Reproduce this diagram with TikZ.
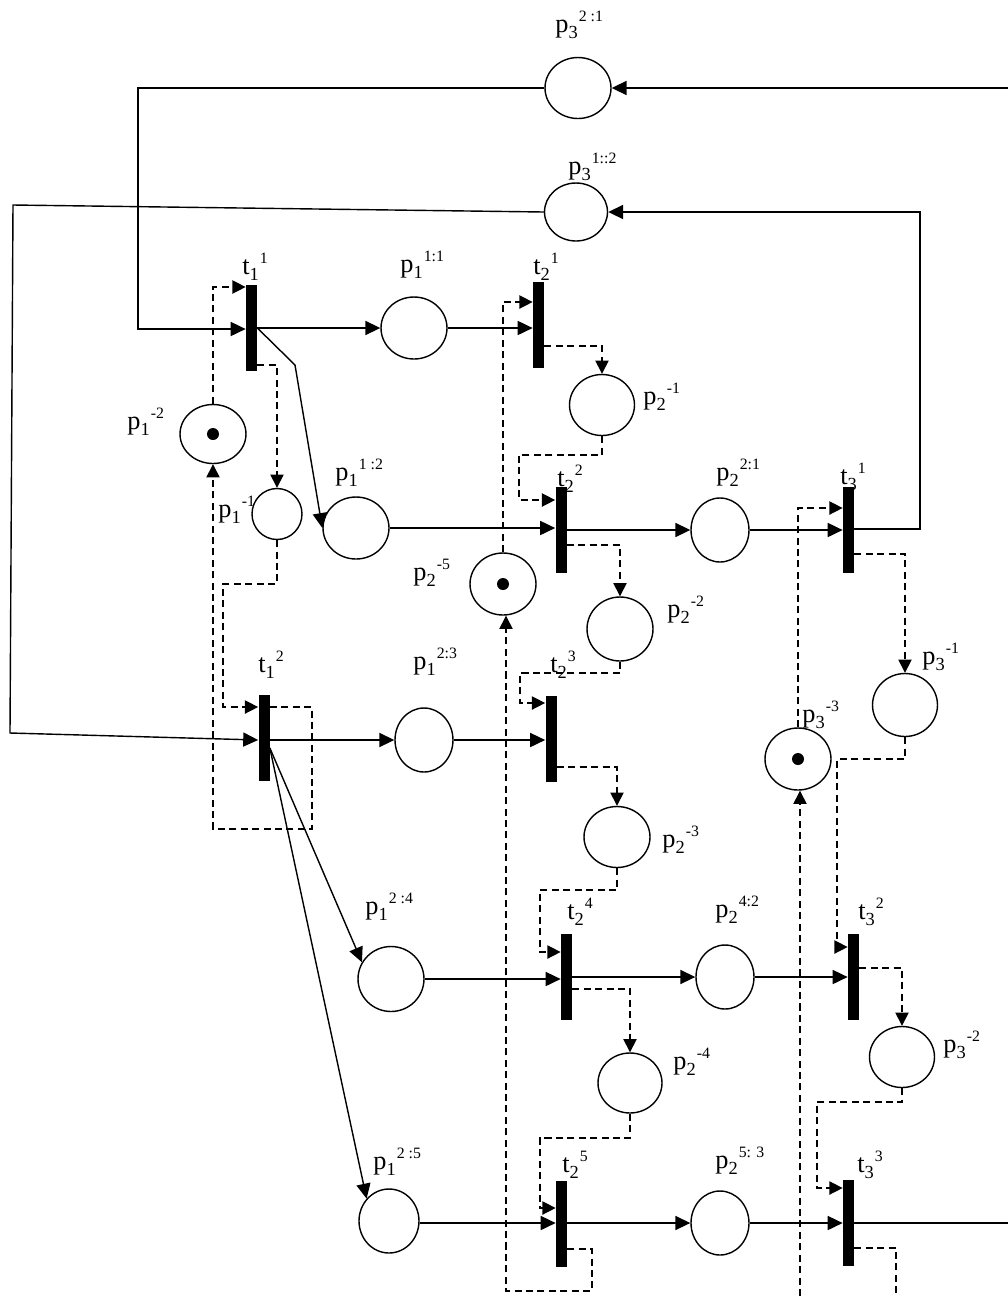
\documentclass[tikz,border=0pt]{standalone}
\usepackage{fontspec}
\setmainfont{Liberation Serif}
\usetikzlibrary{arrows.meta,shapes.geometric}
\newcommand\lb[3]{{\fontsize{15}{15}\selectfont #1}\raisebox{-3.6pt}{\fontsize{10.5}{10.5}\selectfont #2}\kern0.6pt\raisebox{5.8pt}{\fontsize{9}{9}\selectfont #3}}
\tikzset{
 tr/.style={rectangle, fill=black, draw=none, inner sep=0pt, minimum width=0.22cm, minimum height=1.72cm},
 place/.style 2 args={ellipse, draw, line width=0.8pt, inner sep=0pt, minimum width=#1cm, minimum height=#2cm},
 tok/.style={circle, fill=black, inner sep=0pt, minimum size=0.24cm},
 lab/.style={anchor=base west, inner sep=0pt},
 ln/.style={line width=0.8pt},
 arr/.style={ln, -{Triangle[length=8.5pt,width=8pt]}},
 dsh/.style={line width=0.8pt, dash pattern=on 4pt off 2.5pt},
 darr/.style={dsh, -{Triangle[length=7.5pt,width=7.5pt]}},
}
\begin{document}
\begin{tikzpicture}[x=0.02cm,y=-0.02cm]
\useasboundingbox (0,0) rectangle (1008,1296);
% transitions
\node[tr] (t11) at (251.5,328) {};
\node[tr] (t21) at (538.5,325) {};
\node[tr] (t22) at (561,530) {};
\node[tr] (t31) at (848.5,530) {};
\node[tr] (t12) at (264,738) {};
\node[tr] (t23) at (551,738.5) {};
\node[tr] (t24) at (566.5,976.5) {};
\node[tr] (t32) at (853.5,976.5) {};
\node[tr] (t25) at (561.5,1223.5) {};
\node[tr] (t33) at (848.5,1223) {};
% places
\node[place={1.32}{1.22}] (p321) at (578,88) {};
\node[place={1.26}{1.16}] (p312) at (576,212) {};
\node[place={1.32}{1.24}] (p111) at (414,328) {};
\node[place={1.30}{1.22}] (p2m1) at (602,405) {};
\node[place={1.32}{1.18}] (p1m2) at (213,434) {};
\node[place={1.00}{1.02}] (p1m1) at (277,514) {};
\node[place={1.32}{1.24}] (p112) at (356,528) {};
\node[place={1.16}{1.28}] (p221) at (720,530) {};
\node[place={1.32}{1.24}] (p2m5) at (503,584) {};
\node[place={1.32}{1.28}] (p2m2) at (620,629) {};
\node[place={1.16}{1.28}] (p123) at (424,740) {};
\node[place={1.30}{1.26}] (p3m1) at (905,705) {};
\node[place={1.32}{1.24}] (p3m3) at (798,759) {};
\node[place={1.32}{1.22}] (p2m3) at (617,837) {};
\node[place={1.32}{1.30}] (p124) at (391,979) {};
\node[place={1.16}{1.28}] (p242) at (725,977) {};
\node[place={1.28}{1.20}] (p2m4) at (630,1083) {};
\node[place={1.30}{1.22}] (p3m2) at (902,1057) {};
\node[place={1.20}{1.28}] (p125) at (389,1221) {};
\node[place={1.16}{1.28}] (p253) at (720,1223) {};
% tokens
\node[tok] (k1) at (p1m2) {};
\node[tok] (k2) at (p2m5) {};
\node[tok] (k3) at (p3m3) {};
% labels
\node[lab] (lp321) at (555,32) {\lb{p}{3}{2 :1}};
\node[lab] (lp312) at (568,174) {\lb{p}{3}{1::2}};
\node[lab] (lt11) at (242,274) {\lb{t}{1}{1}};
\node[lab] (lp111) at (400,272) {\lb{p}{1}{1:1}};
\node[lab] (lt21) at (533,274) {\lb{t}{2}{1}};
\node[lab] (lp2m1) at (643,404) {\lb{p}{2}{-1}};
\node[lab] (lp1m2) at (127,429) {\lb{p}{1}{-2}};
\node[lab] (lp1m1) at (218,517) {\lb{p}{1}{-1}};
\node[lab] (lp112) at (335,480) {\lb{p}{1}{1 :2}};
\node[lab] (lt22) at (557,486) {\lb{t}{2}{2}};
\node[lab] (lp221) at (716,480) {\lb{p}{2}{2:1}};
\node[lab] (lt31) at (840,484) {\lb{t}{3}{1}};
\node[lab] (lp2m5) at (413,580) {\lb{p}{2}{-5}};
\node[lab] (lp2m2) at (667,617) {\lb{p}{2}{-2}};
\node[lab] (lt12) at (258,672) {\lb{t}{1}{2}};
\node[lab] (lp123) at (413,669) {\lb{p}{1}{2:3}};
\node[lab] (lt23) at (550,672) {\lb{t}{2}{3}};
\node[lab] (lp3m1) at (922,664) {\lb{p}{3}{-1}};
\node[lab] (lp3m3) at (802,722) {\lb{p}{3}{-3}};
\node[lab] (lp2m3) at (662,847) {\lb{p}{2}{-3}};
\node[lab] (lp124) at (365,914) {\lb{p}{1}{2 :4}};
\node[lab] (lt24) at (567,919) {\lb{t}{2}{4}};
\node[lab] (lp242) at (715,917) {\lb{p}{2}{4:2}};
\node[lab] (lt32) at (858,919) {\lb{t}{3}{2}};
\node[lab] (lp2m4) at (673,1069) {\lb{p}{2}{-4}};
\node[lab] (lp3m2) at (943,1052) {\lb{p}{3}{-2}};
\node[lab] (lp125) at (373,1169) {\lb{p}{1}{2 :5}};
\node[lab] (lt25) at (562,1172) {\lb{t}{2}{5}};
\node[lab] (lp253) at (715,1168) {\lb{p}{2}{5: 3}};
\node[lab] (lt33) at (857,1172) {\lb{t}{3}{3}};
% free ends
\coordinate (e1) at (1008,88);
\coordinate (e2) at (1008,1223);
\coordinate (e3) at (896,1296);
\coordinate (e4) at (800,1296);
% solid arcs
\draw[arr] (p321.west) -- (138,88) -- (138,329) -- (t11.west |- 0,329);
\draw[arr] (e1) -- (p321.east);
\draw[arr] (p312.west) -- (13,205) -- (10,733) -- (t12.west |- 0,740);
\draw[arr] (t31.east |- 0,529) -- (920,529) -- (920,212) -- (p312.east);
\draw[arr] (t11.east) -- (p111.west);
\draw[arr] (t11.east) -- (295,365) -- (p112.west);
\draw[arr] (p111.east) -- (p111.east -| t21.west);
\draw[arr] (p112.east) -- (p112.east -| t22.west);
\draw[arr] (t22.east) -- (p221.west);
\draw[arr] (p221.east) -- (p221.east -| t31.west);
\draw[arr] (t12.east |- 0,740) -- (p123.west);
\draw[arr] (p123.east) -- (p123.east -| t23.west);
\draw[arr] (t12.east |- 0,748) -- (p124.150);
\draw[arr] (t12.east |- 0,748) -- (p125.135);
\draw[arr] (p124.east) -- (p124.east -| t24.west);
\draw[arr] (t24.east |- 0,977) -- (p242.west);
\draw[arr] (p242.east) -- (p242.east -| t32.west);
\draw[arr] (p125.east |- 0,1223) -- (t25.west |- 0,1223);
\draw[arr] (t25.east |- 0,1223) -- (p253.west);
\draw[arr] (p253.east) -- (p253.east -| t33.west);
\draw[ln] (t33.east) -- (e2);
% dashed arcs
\draw[darr] (p1m2.north) -- (p1m2.north |- 0,287) -- (t11.west |- 0,287);
\draw[darr] (t11.east |- 0,365) -| (p1m1.north);
\draw[darr] (p1m1.south) -- (p1m1.south |- 0,584) -- (223,584) -- (223,707) -- (t12.west |- 0,707);
\draw[darr] (t12.east |- 0,707) -- (312,707) -- (312,829) -- (213,829) -- (p1m2.south);
\draw[darr] (p2m5.north) -- (p2m5.north |- 0,302) -- (t21.west |- 0,302);
\draw[darr] (t21.east |- 0,346) -| (p2m1.north);
\draw[darr] (p2m1.south) -- (p2m1.south |- 0,455) -- (519,455) -- (519,500) -- (t22.west |- 0,500);
\draw[darr] (t22.east |- 0,545) -| (p2m2.north);
\draw[darr] (p2m2.south) -- (p2m2.south |- 0,673) -- (520,673) -- (520,703) -- (t23.west |- 0,703);
\draw[darr] (t23.east |- 0,767) -| (p2m3.north);
\draw[darr] (p2m3.south) -- (p2m3.south |- 0,890) -- (540,890) -- (540,952) -- (t24.west |- 0,952);
\draw[darr] (t24.east |- 0,989) -| (p2m4.north);
\draw[darr] (p2m4.south) -- (p2m4.south |- 0,1138) -- (540,1138) -- (540,1208) -- (t25.west |- 0,1208);
\draw[darr] (t25.east |- 0,1249) -- (592,1249) -- (592,1291) -- (506,1291) -- (p2m5.south -| 506,0);
\draw[darr] (p3m3.north) -- (p3m3.north |- 0,508) -- (t31.west |- 0,508);
\draw[darr] (t31.east |- 0,554) -| (p3m1.north);
\draw[darr] (p3m1.south) -- (p3m1.south |- 0,759) -- (837,759) -- (837,947) -- (t32.west |- 0,947);
\draw[darr] (t32.east |- 0,968) -| (p3m2.north);
\draw[darr] (p3m2.south) -- (p3m2.south |- 0,1102) -- (817,1102) -- (817,1188) -- (t33.west |- 0,1188);
\draw[dsh] (t33.east |- 0,1248) -- (896,1248) -- (e3);
\draw[darr] (e4) -- (p3m3.south -| e4);
\end{tikzpicture}
\end{document}
